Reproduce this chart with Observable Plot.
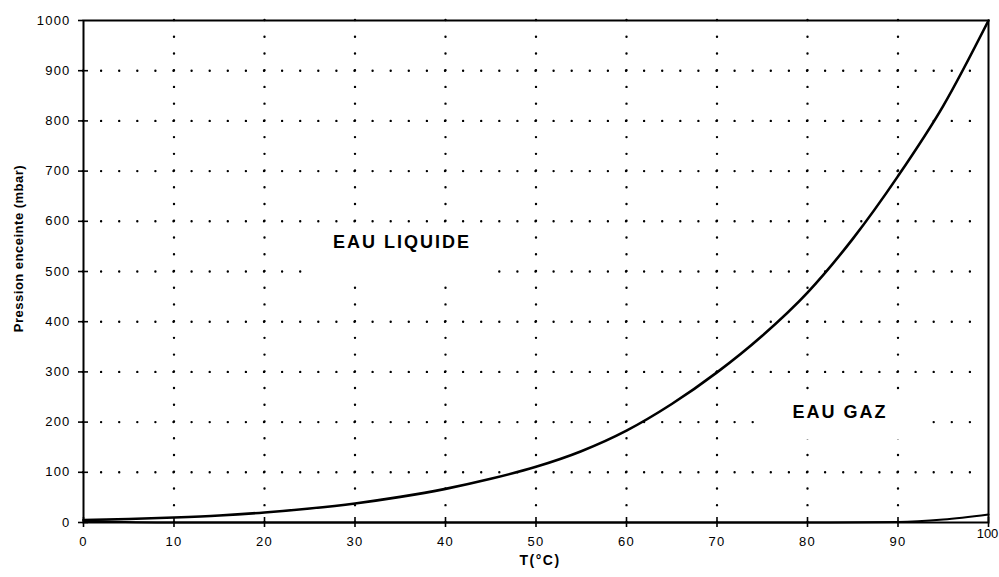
<!DOCTYPE html>
<html><head><meta charset="utf-8">
<script src="https://cdn.jsdelivr.net/npm/d3@7"></script>
<script src="https://cdn.jsdelivr.net/npm/@observablehq/plot@0.6"></script>
<style>body{margin:0;background:#fff;} #chart svg{display:block;}</style>
</head><body><div id="chart"></div>
<script>
// Courbe de pression de vapeur saturante
const temperatures = [0, 5, 10, 15, 20, 25, 30, 35, 40, 45, 50, 55, 60, 65, 70, 75, 80, 85, 90, 95, 100];
const pressionSaturante = [5, 7, 10, 14, 20, 28, 38, 51, 67, 87, 111, 142, 183, 236, 299, 372, 458, 565, 690, 830, 1000];
// Courbe basse
const temperaturesBas = [0, 10, 20, 30, 40, 50, 60, 70, 80, 90, 95, 100];
const pressionBas = [3, 0, 0, 0, 0, 0, 0, 0, 0, 1, 6, 16];
// Axes
const xTicks = [0, 10, 20, 30, 40, 50, 60, 70, 80, 90, 100];
const yTicks = [0, 100, 200, 300, 400, 500, 600, 700, 800, 900, 1000];
const xGrid = [10, 20, 30, 40, 50, 60, 70, 80, 90];
const yGrid = [100, 200, 300, 400, 500, 600, 700, 800, 900];
// Zones
const zoneLabels = ["EAU LIQUIDE", "EAU GAZ"];
const zoneX = [35.2, 83.6];
const zoneY = [559, 219];
const maskX1 = [25, 74.6];
const maskX2 = [45, 93.6];
const maskY1 = [487, 165];
const maskY2 = [592, 252];
const xLabel = "T(°C)";
const yLabel = "Pression enceinte (mbar)";

const curve = temperatures.map((t, i) => ({t, p: pressionSaturante[i]}));
const bottom = temperaturesBas.map((t, i) => ({t, p: pressionBas[i]}));
const zones = zoneLabels.map((label, i) => ({label, x: zoneX[i], y: zoneY[i]}));
const masks = maskX1.map((x1, i) => ({x1, x2: maskX2[i], y1: maskY1[i], y2: maskY2[i]}));

const font = "'Liberation Sans', Arial, sans-serif";
const chart = Plot.plot({
  width: 999, height: 577,
  marginTop: 20, marginBottom: 55, marginLeft: 83, marginRight: 11,
  style: {fontFamily: font, fontSize: "13px", color: "#000", background: "#fff"},
  x: {domain: [0, 100]},
  y: {domain: [0, 1000]},
  marks: [
    Plot.ruleX(xGrid, {stroke: "#000", strokeWidth: 2.4, strokeDasharray: "0,16.73", strokeLinecap: "round"}),
    Plot.ruleY(yGrid, {stroke: "#000", strokeWidth: 2.4, strokeDasharray: "0,18.1", strokeLinecap: "round"}),
    Plot.rect(masks, {x1: "x1", x2: "x2", y1: "y1", y2: "y2", fill: "#fff"}),
    Plot.text(zones, {x: "x", y: "y", text: "label", fontSize: 18, fontWeight: "bold", fill: "#000"}),
    Plot.line(curve, {x: "t", y: "p", stroke: "#000", strokeWidth: 2.6, curve: "monotone-x"}),
    Plot.line(bottom, {x: "t", y: "p", stroke: "#000", strokeWidth: 2, curve: "monotone-x"}),
    Plot.frame({stroke: "#000", strokeWidth: 2}),
    Plot.axisX({ticks: xTicks, tickSize: 5, tickPadding: 9, label: null, tickFormat: d => String(d), strokeWidth: 1.6}),
    Plot.axisX({ticks: xTicks, tickSize: 5, dy: -5, label: null, tickFormat: () => "", strokeWidth: 1.6}),
    Plot.axisY({ticks: yTicks, tickSize: 5, tickPadding: 8, label: null, tickFormat: d => String(d), strokeWidth: 1.6}),
    Plot.axisY({ticks: yTicks.filter(d => d < 1000), tickSize: 5, dx: 5, label: null, tickFormat: () => "", strokeWidth: 1.6}),
    Plot.text([yLabel], {frameAnchor: "left", textAnchor: "middle", dx: -65, dy: -23, rotate: -90, fontSize: 13, fontWeight: "bold", fill: "#000"}),
    Plot.text([xLabel], {frameAnchor: "bottom", lineAnchor: "middle", dx: 4, dy: 38, fontSize: 14, fontWeight: "bold", fill: "#000"})
  ]
});
document.getElementById("chart").appendChild(chart);
d3.select(chart).selectAll("text").each(function () {
  const t = this.textContent;
  if (zoneLabels.includes(t)) this.style.letterSpacing = "2px";
  else if (t === yLabel) this.style.letterSpacing = "0.5px";
  else if (t === xLabel) this.style.letterSpacing = "1.5px";
  else if (/^\d+$/.test(t)) {
    const r = this.getBoundingClientRect();
    if (t === "100" && r.left > 900) {
      // dernière graduation de l'axe X : légèrement remontée comme sur l'original
      this.style.letterSpacing = "0px";
      const tr = this.getAttribute("transform") || "";
      this.setAttribute("transform", tr + " translate(-1,-8)");
    } else {
      this.style.letterSpacing = "1.2px";
    }
  }
});
</script>
</body></html>
